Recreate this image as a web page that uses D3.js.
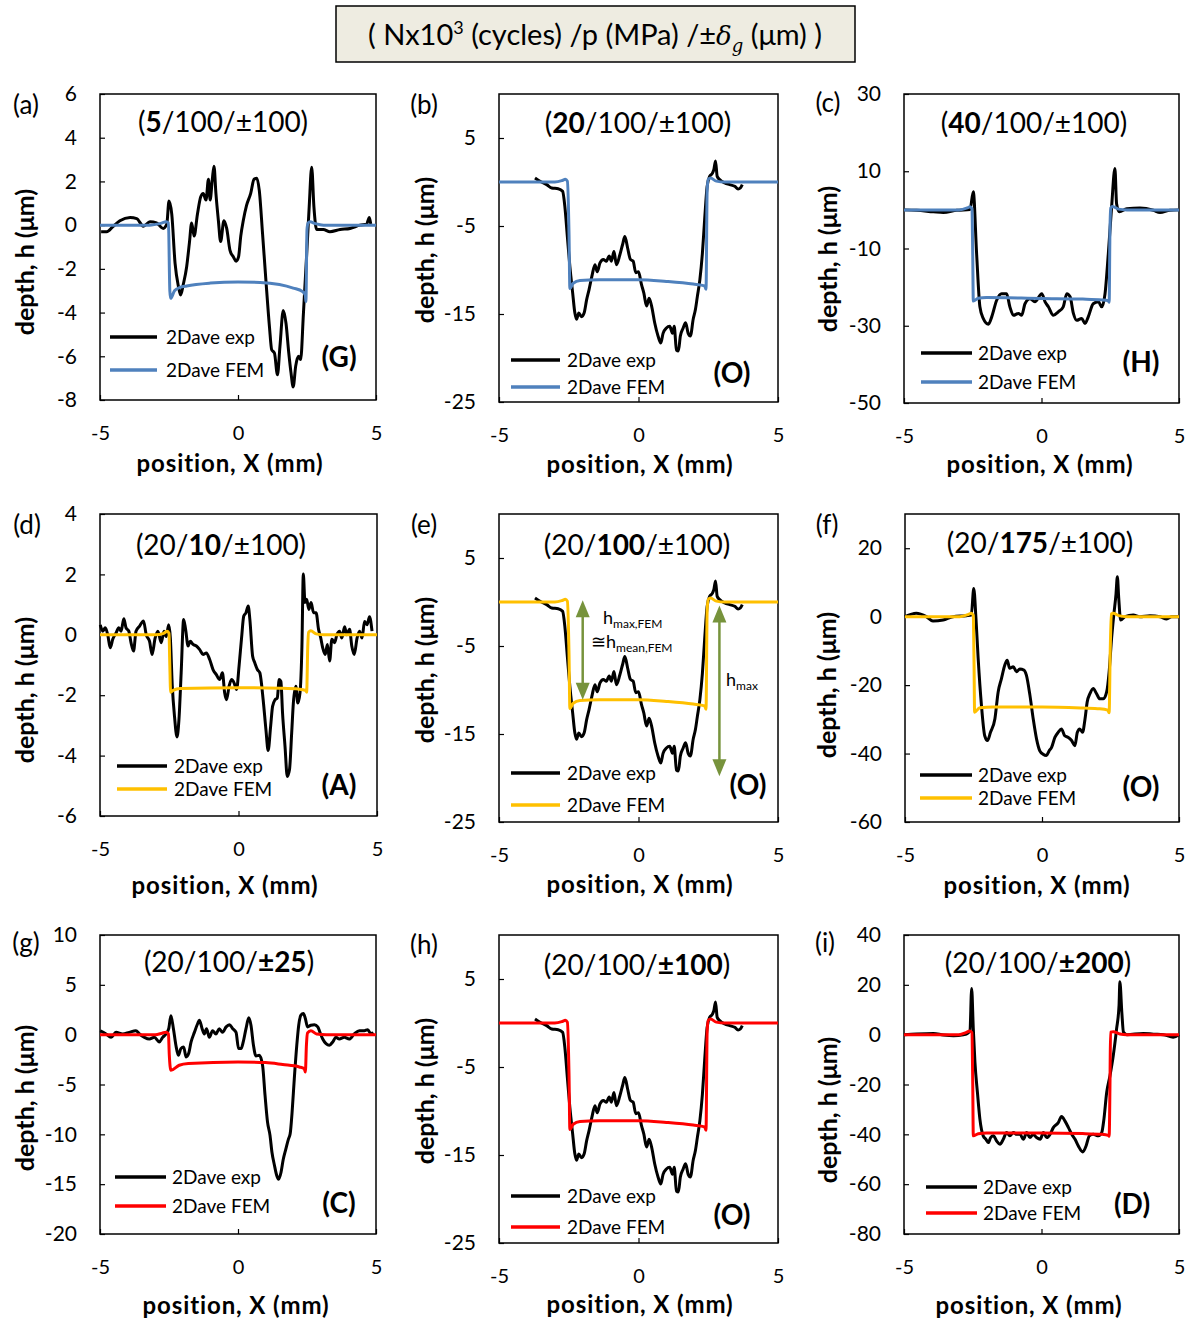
<!DOCTYPE html>
<html><head><meta charset="utf-8">
<script src="https://cdn.jsdelivr.net/npm/d3@7"></script>
<style>
body{margin:0;background:#fff}
svg text{font-family:Lato,"Open Sans","Liberation Sans",sans-serif;fill:#000}
</style>
</head><body>
<svg id="chart" width="1190" height="1320"></svg>
<script>
// ---------------- DATA ----------------
const xTicks = [-5, 0, 5];
const yTicksA = [-8,-6,-4,-2,0,2,4,6];
const yTicksB = [-25,-15,-5,5];
const yTicksC = [-50,-30,-10,10,30];
const yTicksD = [-6,-4,-2,0,2,4];
const yTicksF = [-60,-40,-20,0,20];
const yTicksG = [-20,-15,-10,-5,0,5,10];
const yTicksI = [-80,-60,-40,-20,0,20,40];

const seriesNames = ["2Dave exp", "2Dave FEM"];
const panelTags = ["(a)","(b)","(c)","(d)","(e)","(f)","(g)","(h)","(i)"];
const caseCodes = ["(G)","(O)","(H)","(A)","(O)","(O)","(C)","(O)","(D)"];
const subtitles = [
  ["(", "5", "/100/±100)"],
  ["(", "20", "/100/±100)"],
  ["(", "40", "/100/±100)"],
  ["(20/", "10", "/±100)"],
  ["(20/", "100", "/±100)"],
  ["(20/", "175", "/±100)"],
  ["(20/100/", "±25", ")"],
  ["(20/100/", "±100", ")"],
  ["(20/100/", "±200", ")"]
];

const expA = [[-4.96,-0.3],[-4.76,-0.3],[-4.52,-0.05],[-4.28,0.2],[-3.91,0.35],[-3.67,0.3],[-3.43,-0.05],[-3.19,0.15],[-2.95,0.1],[-2.71,-0.15],[-2.58,0.05],[-2.50,1.1],[-2.40,0.5],[-2.28,-1.75],[-2.16,-2.8],[-2.08,-3.2],[-1.98,-2.7],[-1.86,-1.9],[-1.76,-0.8],[-1.68,0.1],[-1.59,-0.5],[-1.47,0.5],[-1.35,1.3],[-1.26,1.45],[-1.16,1.15],[-1.07,2.1],[-1.01,1.15],[-0.93,2.1],[-0.87,2.7],[-0.80,1.45],[-0.71,0.2],[-0.63,-0.75],[-0.51,0.2],[-0.41,-0.15],[-0.29,-1.15],[-0.17,-1.45],[-0.07,-1.65],[0.02,-1.45],[0.10,-0.5],[0.19,0.2],[0.31,0.9],[0.46,1.45],[0.58,2.1],[0.68,2.15],[0.77,1.6],[0.89,-0.4],[1.01,-2.5],[1.14,-4.65],[1.22,-5.7],[1.32,-5.85],[1.43,-6.85],[1.52,-5.55],[1.64,-3.9],[1.74,-4.5],[1.84,-5.85],[1.92,-6.75],[2.00,-7.4],[2.09,-6.45],[2.19,-6.0],[2.27,-6.15],[2.37,-4.05],[2.49,-1.3],[2.58,0.85],[2.67,2.65],[2.75,0.85],[2.85,-0.2],[3.09,-0.2],[3.33,-0.3],[3.70,-0.2],[4.06,-0.15],[4.42,0],[4.66,0.05],[4.76,0.35],[4.81,0.05]];
const femA = [[-5,0],[-3.2,0],[-2.8,0.08],[-2.6,0.15],[-2.52,0.1],[-2.47,-3.0],[-2.44,-3.35],[-2.3,-3.0],[-2.1,-2.85],[-1.86,-2.78],[-1,-2.65],[0,-2.6],[0.8,-2.62],[1.5,-2.72],[2.0,-2.88],[2.34,-3.04],[2.44,-3.2],[2.46,-3.5],[2.5,-0.2],[2.54,0.1],[2.61,0.15],[2.8,0.07],[3.1,0],[5,0]];

const expB = [[-3.71,0.45],[-3.53,0.08],[-3.29,-0.3],[-3.11,-0.68],[-2.88,-0.76],[-2.72,-1.06],[-2.64,-2.77],[-2.55,-6.2],[-2.46,-9.6],[-2.36,-12.6],[-2.28,-14.9],[-2.22,-15.6],[-2.14,-14.9],[-2.04,-15.3],[-1.95,-14.9],[-1.86,-13.4],[-1.77,-12.2],[-1.67,-10.7],[-1.56,-9.4],[-1.48,-10.2],[-1.38,-9.2],[-1.26,-8.8],[-1.15,-9.0],[-1.05,-8.4],[-0.97,-9.0],[-0.88,-7.9],[-0.79,-9.4],[-0.67,-8.3],[-0.57,-7.1],[-0.49,-6.2],[-0.39,-7.5],[-0.29,-8.8],[-0.19,-9.0],[-0.10,-10.3],[0.0,-10.2],[0.11,-11.7],[0.19,-12.6],[0.29,-14.1],[0.38,-13.2],[0.47,-14.1],[0.58,-16.0],[0.70,-17.5],[0.80,-18.3],[0.88,-17.2],[1.00,-16.6],[1.12,-16.4],[1.22,-17.2],[1.28,-16.4],[1.36,-19.1],[1.43,-19.2],[1.50,-17.5],[1.60,-16.6],[1.69,-16.0],[1.78,-17.2],[1.86,-17.5],[1.96,-15.6],[2.04,-14.5],[2.11,-13.0],[2.20,-11.1],[2.29,-8.1],[2.37,-4.3],[2.46,-0.5],[2.55,0.64],[2.64,0.95],[2.70,1.4],[2.76,2.4],[2.82,0.64],[2.91,0.27],[3.09,-0.11],[3.27,-0.3],[3.45,-0.49],[3.57,-0.8],[3.65,-0.68],[3.72,-0.3]];
const femB = [[-5,0],[-3.0,0],[-2.75,0.15],[-2.62,0.3],[-2.55,0.1],[-2.49,-6],[-2.46,-12.1],[-2.34,-11.5],[-2.1,-11.2],[-1.4,-11.12],[0,-11.1],[1.0,-11.3],[1.96,-11.6],[2.37,-11.8],[2.42,-12.2],[2.46,-1.0],[2.5,0.3],[2.58,0.45],[2.79,0.1],[3.1,0],[5,0]];

const expC = [[-5,0],[-4.54,-0.1],[-3.93,-0.5],[-3.57,-0.7],[-3.08,-0.1],[-2.6,0.1],[-2.48,4.7],[-2.36,-11.3],[-2.24,-25.1],[-2.12,-28.1],[-1.93,-29.6],[-1.81,-27.7],[-1.63,-23.4],[-1.45,-21.7],[-1.27,-21.7],[-1.15,-25.1],[-1.02,-27.3],[-0.84,-26.8],[-0.72,-27.3],[-0.6,-24.3],[-0.42,-23.0],[-0.24,-23.8],[0.01,-21.7],[0.13,-23.8],[0.25,-25.1],[0.43,-27.3],[0.61,-26.4],[0.79,-25.1],[0.92,-21.7],[1.04,-22.5],[1.16,-26.8],[1.28,-28.6],[1.46,-28.1],[1.58,-29.4],[1.70,-27.7],[1.88,-24.3],[2.07,-23.8],[2.19,-25.1],[2.31,-21.7],[2.43,-11.3],[2.55,0.8],[2.67,10.7],[2.73,1.6],[2.83,-0.5],[3.10,0.3],[3.58,0.5],[4.07,-0.1],[4.31,-0.7],[4.67,-0.1],[5,0]];
const femC = [[-5,0],[-3.0,0],[-2.7,0.5],[-2.6,0.8],[-2.53,0.3],[-2.5,-12],[-2.48,-23.6],[-2.3,-22.9],[-2.0,-22.7],[0,-22.95],[1.5,-23.1],[2.2,-23.3],[2.42,-23.5],[2.46,-23.9],[2.49,-5],[2.52,0.5],[2.58,0.9],[2.8,0.2],[3.1,0],[5,0]];

const expD = [[-4.99,0.33],[-4.90,0.12],[-4.81,0.23],[-4.72,0],[-4.63,-0.43],[-4.54,-0.15],[-4.42,0.06],[-4.32,0.23],[-4.24,0.12],[-4.14,0.53],[-4.06,0.23],[-3.96,0.12],[-3.88,-0.26],[-3.79,-0.54],[-3.70,0.12],[-3.57,0.29],[-3.43,0.46],[-3.33,0],[-3.21,-0.22],[-3.12,-0.65],[-3.01,-0.11],[-2.91,0.12],[-2.79,-0.26],[-2.69,0.12],[-2.61,-0.06],[-2.52,0.33],[-2.46,-0.11],[-2.39,-1.7],[-2.31,-2.7],[-2.22,-3.38],[-2.15,-2.81],[-2.07,-1.26],[-1.98,0.51],[-1.91,0.18],[-1.82,-0.37],[-1.74,-0.21],[-1.64,-0.32],[-1.52,-0.37],[-1.40,-0.49],[-1.28,-0.65],[-1.16,-0.6],[-1.04,-0.82],[-0.92,-1.15],[-0.80,-1.32],[-0.68,-1.48],[-0.58,-1.26],[-0.50,-1.92],[-0.43,-2.15],[-0.34,-1.7],[-0.25,-1.48],[-0.16,-1.59],[-0.07,-1.81],[0.02,-1.04],[0.11,-0.11],[0.19,0.62],[0.27,0.73],[0.35,0.95],[0.41,0.51],[0.51,-0.71],[0.59,-0.93],[0.68,-1.15],[0.77,-1.26],[0.89,-2.15],[0.99,-3.14],[1.07,-3.83],[1.16,-3.03],[1.23,-2.37],[1.32,-2.15],[1.40,-2.09],[1.47,-1.48],[1.53,-1.54],[1.59,-2.59],[1.68,-3.7],[1.76,-4.69],[1.84,-4.47],[1.92,-3.25],[1.98,-2.26],[2.07,-1.7],[2.14,-2.26],[2.22,-1.92],[2.29,-0.37],[2.34,2.01],[2.40,1.07],[2.46,1.18],[2.54,0.84],[2.62,1.07],[2.71,0.73],[2.80,0.73],[2.89,0.18],[2.97,-0.11],[3.04,-0.43],[3.13,-0.65],[3.21,-0.32],[3.29,-0.87],[3.37,-0.15],[3.47,-0.26],[3.55,0],[3.65,0.12],[3.73,-0.11],[3.83,0.27],[3.91,0],[4.01,0.18],[4.09,-0.37],[4.18,-0.65],[4.28,-0.11],[4.37,0.12],[4.46,-0.11],[4.55,0.44],[4.64,0.33],[4.73,0.6],[4.82,0.12]];
const femD = [[-5,0],[-3.0,0],[-2.7,0.05],[-2.57,0.12],[-2.51,0.05],[-2.48,-1.0],[-2.45,-1.9],[-2.36,-1.84],[-2.1,-1.78],[0,-1.75],[1.5,-1.77],[2.2,-1.8],[2.42,-1.84],[2.46,-1.9],[2.5,-0.4],[2.53,0.08],[2.61,0.13],[2.8,0.03],[3.1,0],[5,0]];

const expF = [[-5,0],[-4.59,1],[-4.22,0],[-3.98,-1.3],[-3.61,-1],[-3.25,0],[-2.76,0.3],[-2.58,0.5],[-2.49,8.2],[-2.41,-0.5],[-2.33,-12.2],[-2.21,-25.9],[-2.09,-34.8],[-1.99,-36.2],[-1.88,-33.8],[-1.72,-29.9],[-1.6,-22],[-1.48,-18.1],[-1.36,-14.2],[-1.27,-12.7],[-1.18,-15.1],[-1.05,-14.6],[-0.93,-16.1],[-0.81,-15.3],[-0.66,-15.6],[-0.57,-17.1],[-0.44,-23],[-0.32,-29.9],[-0.2,-35.7],[-0.08,-39.2],[0.04,-40.2],[0.16,-40.6],[0.26,-39.2],[0.35,-38.2],[0.47,-35.3],[0.59,-33.8],[0.71,-32.8],[0.83,-34.8],[0.96,-35.3],[1.08,-36.2],[1.2,-37.7],[1.29,-33.8],[1.38,-32.8],[1.48,-33.8],[1.57,-29.9],[1.65,-24.9],[1.75,-22.5],[1.87,-21],[1.99,-22.5],[2.11,-24],[2.24,-24],[2.36,-22],[2.45,-16.1],[2.54,-6.3],[2.62,0.5],[2.7,6.5],[2.75,11.7],[2.8,5.5],[2.87,-1],[3.03,0],[3.33,0.5],[3.57,0],[3.94,0.3],[4.31,0],[4.55,-0.7],[4.73,0],[5,0]];
const femF = [[-5,0],[-3.0,0],[-2.7,0.6],[-2.58,1.0],[-2.51,0.4],[-2.48,-14],[-2.46,-27.9],[-2.27,-26.6],[-1.8,-26.4],[0,-26.4],[1.5,-26.7],[2.11,-26.9],[2.4,-27.3],[2.45,-28.1],[2.49,-10],[2.53,0.8],[2.6,1.0],[2.8,0.3],[3.1,0],[5,0]];

const expG = [[-4.99,0.4],[-4.78,0.07],[-4.60,-0.27],[-4.42,0.23],[-4.18,0.07],[-3.94,0.23],[-3.70,0.4],[-3.57,0.07],[-3.39,-0.27],[-3.21,-0.44],[-3.03,-0.27],[-2.85,-0.73],[-2.73,-0.27],[-2.61,0.07],[-2.51,0.6],[-2.43,1.89],[-2.34,0.6],[-2.25,-1.06],[-2.16,-2.07],[-2.07,-1.4],[-1.97,-1.23],[-1.88,-2.24],[-1.79,-1.9],[-1.70,-0.73],[-1.58,0.23],[-1.46,1.12],[-1.40,1.45],[-1.30,0.6],[-1.22,0.07],[-1.14,0.6],[-1.04,-0.27],[-0.92,0.4],[-0.80,0.07],[-0.68,0.6],[-0.56,0.23],[-0.43,0.78],[-0.31,1.0],[-0.19,0.6],[-0.07,0.23],[0.02,-1.4],[0.11,-1.4],[0.19,-0.73],[0.29,0.6],[0.39,1.69],[0.47,0.95],[0.56,-1.06],[0.65,-2.14],[0.77,-2.07],[0.89,-3.07],[0.98,-6.09],[1.07,-8.77],[1.16,-10.1],[1.23,-11.8],[1.32,-13.1],[1.40,-14.1],[1.47,-14.5],[1.56,-13.8],[1.64,-12.5],[1.73,-11.5],[1.83,-10.45],[1.89,-9.95],[1.96,-7.77],[2.04,-4.41],[2.13,-1.06],[2.20,0.95],[2.28,1.95],[2.37,2.12],[2.44,1.62],[2.52,0.78],[2.64,0.95],[2.77,1.0],[2.89,0.78],[2.97,0.23],[3.07,-0.44],[3.19,-0.9],[3.31,-1.06],[3.43,-0.73],[3.55,-0.27],[3.67,-0.44],[3.85,-0.27],[4.03,-0.44],[4.21,0.07],[4.40,0.4],[4.58,0.4],[4.70,0.5],[4.82,0.07],[4.90,0.23]];
const femG = [[-5,0],[-3.0,0],[-2.75,0.15],[-2.61,0.25],[-2.52,0.1],[-2.49,-2.0],[-2.43,-3.58],[-2.13,-3.07],[-1.8,-2.9],[0,-2.74],[1.0,-2.8],[1.62,-3.0],[2.22,-3.24],[2.4,-3.41],[2.44,-3.74],[2.48,-1.0],[2.52,0.17],[2.64,0.4],[2.85,0.07],[3.2,0],[5,0]];

const expI = [[-5,0],[-4.54,0.3],[-3.93,0.5],[-3.57,-0.1],[-3.2,-0.4],[-2.84,0],[-2.72,0.3],[-2.60,1.7],[-2.54,18.5],[-2.48,2.3],[-2.42,-11.1],[-2.33,-23.2],[-2.24,-33.9],[-2.12,-40.6],[-2.02,-42],[-1.93,-43.3],[-1.85,-41.3],[-1.75,-40.6],[-1.63,-42.7],[-1.51,-44],[-1.39,-42],[-1.27,-39.3],[-1.15,-40.6],[-1.02,-39.3],[-0.90,-40],[-0.78,-40],[-0.66,-42],[-0.54,-39.3],[-0.42,-41.3],[-0.30,-40],[-0.18,-41.3],[-0.05,-42],[0.07,-39.3],[0.19,-41.3],[0.31,-40],[0.43,-37.3],[0.61,-35.3],[0.73,-32.8],[0.85,-34.6],[0.98,-37.3],[1.10,-40],[1.22,-42],[1.34,-44.7],[1.50,-47.1],[1.62,-44.7],[1.74,-40.6],[1.88,-40],[2.07,-40.6],[2.19,-39.3],[2.27,-33.9],[2.37,-23.2],[2.49,-16.5],[2.61,-8.4],[2.73,2.3],[2.82,11.8],[2.85,21.2],[2.92,9.1],[2.98,1.0],[3.10,0],[3.7,0.5],[4.07,0.2],[4.43,0],[4.79,-1],[5,0]];
const femI = [[-5,0],[-3.0,0],[-2.75,0.8],[-2.6,1.5],[-2.53,0.8],[-2.5,-20],[-2.48,-40.6],[-2.3,-39.8],[-2.0,-39.5],[0,-39.5],[1.5,-39.7],[2.2,-40.0],[2.43,-40.4],[2.46,-40.8],[2.49,-20],[2.51,1.0],[2.61,1.2],[2.85,0.3],[3.1,0],[5,0]];

// annotation values (panel e), data coords
const arrowFEM = {x: -2.0, top: 0.2, bottom: -11.1};
const arrowMax = {x: 2.9, top: -0.4, bottom: -19.8};

// ---------------- STYLE / LAYOUT ----------------
const BLUE = "#4f81bd", YELLOW = "#ffc000", RED = "#ff0000", GREEN = "#77933c";

const panels = [
 {exp:expA, fem:femA, color:BLUE,   yDom:[-8,6],   yTicks:yTicksA, f:[100,376,94,400],  sub:[223,122],  tag:[26,105],  code:[339,357],  leg:[110,157,337,370,166], yT:[25,262],  xT:[230,461]},
 {exp:expB, fem:femB, color:BLUE,   yDom:[-25,10], yTicks:yTicksB, f:[499,778,94,402],  sub:[638,123],  tag:[424,105], code:[732,373],  leg:[511,560,360,387,567], yT:[425,250], xT:[640,462]},
 {exp:expC, fem:femC, color:BLUE,   yDom:[-50,30], yTicks:yTicksC, f:[904,1179,94,403], sub:[1034,123], tag:[828,103], code:[1141,362], leg:[921,972,353,382,978], yT:[828,259], xT:[1040,462]},
 {exp:expD, fem:femD, color:YELLOW, yDom:[-6,4],   yTicks:yTicksD, f:[100,377,514,816], sub:[221,545],  tag:[27,525],  code:[339,785],  leg:[117,167,766,789,174], yT:[25,690],  xT:[225,883]},
 {exp:expB, fem:femB, color:YELLOW, yDom:[-25,10], yTicks:yTicksB, f:[499,778,514,822], sub:[637,545],  tag:[424,525], code:[748,785],  leg:[511,560,773,805,567], yT:[425,670], xT:[640,882]},
 {exp:expF, fem:femF, color:YELLOW, yDom:[-60,30], yTicks:yTicksF, f:[905,1179,514,822],sub:[1040,543], tag:[827,525], code:[1141,787], leg:[920,972,775,798,978], yT:[827,685], xT:[1037,883]},
 {exp:expG, fem:femG, color:RED,    yDom:[-20,10], yTicks:yTicksG, f:[100,376,935,1234],sub:[229,962],  tag:[26,943],  code:[339,1203], leg:[115,166,1177,1206,172],yT:[25,1098], xT:[236,1303]},
 {exp:expB, fem:femB, color:RED,    yDom:[-25,10], yTicks:yTicksB, f:[499,778,935,1243],sub:[637,965],  tag:[424,945], code:[732,1215], leg:[511,560,1196,1227,567],yT:[425,1091], xT:[640,1302]},
 {exp:expI, fem:femI, color:RED,    yDom:[-80,40], yTicks:yTicksI, f:[904,1179,935,1234],sub:[1038,963], tag:[825,943], code:[1132,1204],leg:[926,977,1187,1213,983],yT:[828,1110], xT:[1029,1303]}
];

const svg = d3.select("#chart");
const fmt = d => String(d);

// title box
const tg = svg.append("g");
tg.append("rect").attr("x",336).attr("y",6).attr("width",519).attr("height",56)
  .attr("fill","#eeece1").attr("stroke","#000").attr("stroke-width",1.5);
const tt = tg.append("text").attr("x",595).attr("y",45).attr("text-anchor","middle").attr("font-size",29);
tt.append("tspan").text("( Nx10");
tt.append("tspan").attr("font-size",18).attr("dy",-11).text("3");
tt.append("tspan").attr("dy",11).text(" (cycles) /p (MPa) /±");
tt.append("tspan").attr("font-style","italic").attr("font-family","DejaVu Serif, serif").attr("font-size",26).text("δ");
tt.append("tspan").attr("font-style","italic").attr("font-family","DejaVu Serif, serif").attr("font-size",18).attr("dy",7).text("g");
tt.append("tspan").attr("dy",-7).text(" (μm) )");

panels.forEach((p, i) => {
  const [x0,x1,y0,y1] = p.f;
  const x = d3.scaleLinear().domain([-5,5]).range([x0,x1]);
  const y = d3.scaleLinear().domain(p.yDom).range([y1,y0]);
  const g = svg.append("g");

  // axes (ticks inside)
  const ya = g.append("g").attr("transform",`translate(${x0},0)`)
    .call(d3.axisLeft(y).tickValues(p.yTicks).tickSize(-5).tickPadding(23).tickFormat(fmt));
  ya.select(".domain").remove();
  ya.selectAll("line").attr("stroke","#000").attr("stroke-width",1.2);
  ya.selectAll("text").attr("font-size",21).attr("fill","#000").style("font-family","Lato, sans-serif");

  const xa = g.append("g").attr("transform",`translate(0,${y1})`)
    .call(d3.axisBottom(x).tickValues(xTicks).tickSize(-5).tickPadding(26).tickFormat(fmt));
  xa.select(".domain").remove();
  xa.selectAll("line").attr("stroke","#000").attr("stroke-width",1.2);
  xa.selectAll("text").attr("font-size",20).attr("fill","#000").style("font-family","Lato, sans-serif");

  // frame
  g.append("rect").attr("x",x0).attr("y",y0).attr("width",x1-x0).attr("height",y1-y0)
    .attr("fill","none").attr("stroke","#000").attr("stroke-width",1.5);

  const line = d3.line().x(d=>x(d[0])).y(d=>y(d[1])).curve(d3.curveMonotoneX);
  g.append("path").datum(p.exp).attr("d",line).attr("fill","none")
    .attr("stroke","#000").attr("stroke-width",3).attr("stroke-linejoin","round");
  g.append("path").datum(p.fem).attr("d",line).attr("fill","none")
    .attr("stroke",p.color).attr("stroke-width",3).attr("stroke-linejoin","round");

  // subtitle
  const st = g.append("text").attr("x",p.sub[0]).attr("y",p.sub[1]+10).attr("text-anchor","middle").attr("font-size",28);
  st.append("tspan").text(subtitles[i][0]);
  st.append("tspan").attr("font-weight","bold").text(subtitles[i][1]);
  st.append("tspan").text(subtitles[i][2]);

  // panel tag
  g.append("text").attr("x",p.tag[0]).attr("y",p.tag[1]+9).attr("text-anchor","middle").attr("font-size",26).text(panelTags[i]);
  // case code
  g.append("text").attr("x",p.code[0]).attr("y",p.code[1]+10).attr("text-anchor","middle").attr("font-size",28).attr("font-weight","bold").text(caseCodes[i]);

  // legend
  const [lx0,lx1,ly0,ly1,tx] = p.leg;
  [[ly0,"#000"],[ly1,p.color]].forEach((r,k)=>{
    g.append("line").attr("x1",lx0).attr("x2",lx1).attr("y1",r[0]).attr("y2",r[0]).attr("stroke",r[1]).attr("stroke-width",3.5);
    g.append("text").attr("x",tx).attr("y",r[0]+7).attr("font-size",19).text(seriesNames[k]);
  });

  // axis titles
  g.append("text").attr("transform",`translate(${p.yT[0]},${p.yT[1]}) rotate(-90)`).attr("dy","0.35em")
    .attr("text-anchor","middle").attr("font-size",25).attr("font-weight","bold").text("depth, h (μm)");
  g.append("text").attr("x",p.xT[0]).attr("y",p.xT[1]+11).attr("text-anchor","middle")
    .attr("font-size",24).attr("font-weight","bold").attr("letter-spacing",0.9).text("position, X (mm)");

  // annotations for panel (e)
  if (i === 4) {
    const drawArrow = (a) => {
      const ax = x(a.x), yt = y(a.top), yb = y(a.bottom);
      const hh = 17, hw = 7;
      g.append("line").attr("x1",ax).attr("x2",ax).attr("y1",yt+hh-2).attr("y2",yb-hh+2).attr("stroke",GREEN).attr("stroke-width",2.5);
      g.append("path").attr("d",`M${ax},${yt} L${ax-hw},${yt+hh} L${ax+hw},${yt+hh} Z`).attr("fill",GREEN);
      g.append("path").attr("d",`M${ax},${yb} L${ax-hw},${yb-hh} L${ax+hw},${yb-hh} Z`).attr("fill",GREEN);
    };
    drawArrow(arrowFEM);
    drawArrow(arrowMax);
    const t1 = g.append("text").attr("x",603).attr("y",624).attr("font-size",18);
    t1.append("tspan").text("h");
    t1.append("tspan").attr("font-size",12).attr("dy",4).text("max,FEM");
    const t2 = g.append("text").attr("x",591).attr("y",648).attr("font-size",18);
    t2.append("tspan").text("≅h");
    t2.append("tspan").attr("font-size",12).attr("dy",4).text("mean,FEM");
    const t3 = g.append("text").attr("x",726).attr("y",686).attr("font-size",18);
    t3.append("tspan").text("h");
    t3.append("tspan").attr("font-size",12).attr("dy",4).text("max");
  }
});
</script>
</body></html>
